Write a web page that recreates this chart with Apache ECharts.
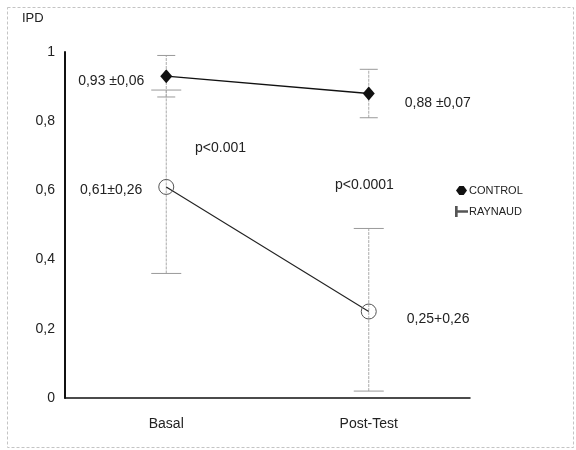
<!DOCTYPE html>
<html><head><meta charset="utf-8">
<script src="https://cdn.jsdelivr.net/npm/echarts@6/dist/echarts.min.js"></script>
<style>html,body{margin:0;padding:0;background:#fff}#c{width:576px;height:450px}</style>
</head><body><div id="c"></div>
<script>
const categories = ['Basal', 'Post-Test'];
const controlMean = [0.93, 0.88];
const controlLow = [0.87, 0.81];
const controlHigh = [0.99, 0.95];
const controlLabels = ['0,93 ±0,06', '0,88 ±0,07'];
const raynaudMean = [0.61, 0.25];
const raynaudLow = [0.36, 0.02];
const raynaudHigh = [0.89, 0.49];
const raynaudLabels = ['0,61±0,26', '0,25+0,26'];
const yTicks = [0, 0.2, 0.4, 0.6, 0.8, 1];

const FONT = 'Liberation Sans, Arial, sans-serif';
const chart = echarts.init(document.getElementById('c'));

function errData(low, high) {
  return categories.map((c, i) => [i, low[i], high[i]]);
}
function errRender(capHalf) {
  return function (params, api) {
    const x = api.value(0);
    const lo = api.coord([x, api.value(1)]);
    const hi = api.coord([x, api.value(2)]);
    const st = { stroke: '#aaa', lineWidth: 1, lineDash: [3, 1] };
    const cs = { stroke: '#999', lineWidth: 1 };
    return {
      type: 'group',
      children: [
        { type: 'line', shape: { x1: lo[0], y1: lo[1], x2: hi[0], y2: hi[1] }, style: st },
        { type: 'line', shape: { x1: lo[0] - capHalf, y1: lo[1], x2: lo[0] + capHalf, y2: lo[1] }, style: cs },
        { type: 'line', shape: { x1: hi[0] - capHalf, y1: hi[1], x2: hi[0] + capHalf, y2: hi[1] }, style: cs }
      ]
    };
  };
}
function labelled(vals, labels, offs, dists) {
  return vals.map((v, i) => ({
    value: v,
    label: {
      show: true,
      formatter: labels[i],
      position: i === 0 ? 'left' : 'right',
      distance: dists[i],
      offset: offs[i],
      color: '#222',
      fontSize: 14,
      fontFamily: FONT
    }
  }));
}

chart.setOption({
  animation: false,
  backgroundColor: '#fff',
  grid: { left: 65, right: 106, top: 52, bottom: 52 },
  xAxis: {
    type: 'category',
    data: categories,
    boundaryGap: true,
    axisLine: { lineStyle: { color: '#111', width: 1.5 } },
    axisTick: { show: false },
    axisLabel: { color: '#222', fontSize: 14, fontFamily: FONT, margin: 19 },
    splitLine: { show: false }
  },
  yAxis: {
    type: 'value',
    min: 0, max: 1, interval: 0.2,
    axisLine: { show: true, lineStyle: { color: '#111', width: 2 } },
    axisTick: { show: false },
    splitLine: { show: false },
    axisLabel: {
      color: '#222', fontSize: 14, fontFamily: FONT, margin: 10,
      formatter: v => String(Math.round(v * 10) / 10).replace('.', ',')
    }
  },
  legend: {
    orient: 'vertical',
    left: 450, top: 180,
    itemGap: 10,
    itemWidth: 11, itemHeight: 9,
    textStyle: { color: '#222', fontSize: 11, fontFamily: FONT, padding: [0, 0, 0, -3] },
    data: [
      { name: 'CONTROL', icon: 'path://M0,5 L3,1 L7,1 L10,5 L7,9 L3,9 Z' },
      { name: 'RAYNAUD', icon: 'path://M0,1 L0.6,1 L0.6,4.7 L10,4.7 L10,5.3 L0.6,5.3 L0.6,9 L0,9 Z' }
    ]
  },
  series: [
    {
      type: 'custom', name: 'errC', renderItem: errRender(9),
      data: errData(controlLow, controlHigh), z: 1, silent: true
    },
    {
      type: 'custom', name: 'errR', renderItem: errRender(15),
      data: errData(raynaudLow, raynaudHigh), z: 1, silent: true
    },
    {
      name: 'CONTROL', type: 'line',
      data: labelled(controlMean, controlLabels, [[0, 5], [0, 10]], [16, 30]),
      symbol: 'diamond', symbolSize: [12, 14],
      itemStyle: { color: '#111' },
      lineStyle: { color: '#111', width: 1.3 },
      z: 3
    },
    {
      name: 'RAYNAUD', type: 'line',
      data: labelled(raynaudMean, raynaudLabels, [[0, 3], [0, 8]], [16, 30]),
      symbol: 'circle', symbolSize: 15, showAllSymbol: true,
      itemStyle: { color: 'rgba(255,255,255,0)', borderColor: '#555', borderWidth: 1 },
      lineStyle: { color: '#222', width: 1.1 },
      z: 3
    }
  ],
  graphic: [
    { type: 'rect', left: 5, top: 5, shape: { width: 566, height: 440 }, style: { fill: 'none', stroke: '#c4c4c4', lineWidth: 1, lineDash: [3, 2] }, z: -1 },
    { type: 'text', left: 22, top: 12, style: { text: 'IPD', fontSize: 13, fontFamily: FONT, fill: '#222' } },
    { type: 'text', left: 195, top: 141, style: { text: 'p<0.001', fontSize: 14, fontFamily: FONT, fill: '#222' } },
    { type: 'text', left: 335, top: 178, style: { text: 'p<0.0001', fontSize: 14, fontFamily: FONT, fill: '#222' } }
  ]
});
</script></body></html>
